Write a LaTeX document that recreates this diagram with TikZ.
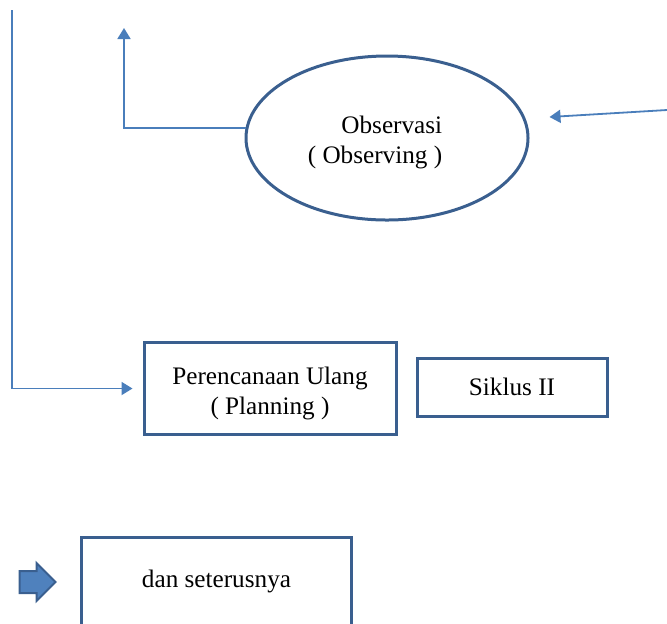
\documentclass[tikz,border=0pt]{standalone}
\usepackage{fontspec}
\setmainfont{Liberation Serif}
\usetikzlibrary{arrows.meta, shapes.geometric, shapes.arrows}
\definecolor{linkblue}{HTML}{4A7EBB}
\definecolor{edgeblue}{HTML}{3A5F8F}
\definecolor{fillblue}{HTML}{4F81BD}

\begin{document}
\begin{tikzpicture}[x=0.5pt, y=-0.5pt, font=\fontsize{12.6}{15}\selectfont,
        box/.style={draw=edgeblue, line width=1.5pt, inner sep=0pt, align=center},
        link/.style={draw=linkblue, line width=0.9pt, -{Triangle[length=5.5pt,width=6.5pt]}}]
        \clip (0,0) rectangle (667,623);
        \useasboundingbox (0,0) rectangle (667,623);
        % cycle figure
        \node[box, ellipse, minimum width=141pt, minimum height=82pt,
              label={[xshift=-6pt, yshift=-2pt, align=right]center:Observasi\\( Observing )}] (obs) at (387,138) {};
        \node[box, minimum width=126pt, minimum height=46pt,
              label={[yshift=-2.5pt, align=center]center:Perencanaan Ulang\\( Planning )}] (plan) at (270,388.5) {};
        \node[box, minimum width=95pt, minimum height=29pt] (siklus) at (512,387) {Siklus II};
        \node[box, minimum width=135pt, minimum height=44pt] (dst) at (216.5,581) {dan seterusnya};
        \node[single arrow, draw=edgeblue, fill=fillblue, line width=1pt, inner sep=5pt,
              minimum height=18pt, single arrow head extend=4pt] (blok) at (32,582) {};
        % connectors
        \coordinate (upend) at (124,28);
        \coordinate (lefttop) at (12,10);
        \coordinate (rightin) at (667,110);
        \draw[link] (obs.176) -| (upend);
        \draw[link] (lefttop) |- ([xshift=-5pt]plan.west);
        \draw[link] (rightin) -- ([shift={(20,-21)}]obs.east);
\end{tikzpicture}
\end{document}
